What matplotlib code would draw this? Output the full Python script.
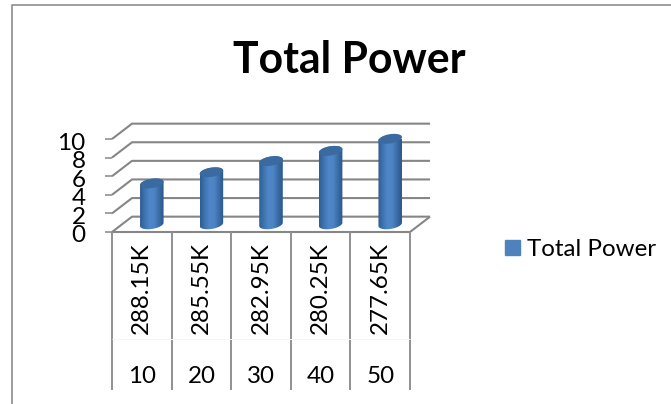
import numpy as np
import matplotlib
matplotlib.use("Agg")
import matplotlib.pyplot as plt
from matplotlib.colors import LinearSegmentedColormap
from matplotlib.lines import Line2D
from matplotlib.patches import Patch, PathPatch
from matplotlib.path import Path
from matplotlib.transforms import ScaledTranslation

plt.rcParams['font.family'] = ['Lato', 'DejaVu Sans']

temps = ["288.15K", "285.55K", "282.95K", "280.25K", "277.65K"]
groups = ["10", "20", "30", "40", "50"]
power = [4.4, 5.6, 6.8, 7.9, 9.2]
y_ticks = [0, 2, 4, 6, 8, 10]

W, H = 671, 404
GRID = "#868686"
DEPTH_X = 0.336   # wall offset, in categories
DEPTH_Y = 1.65    # wall offset, in value units
BAR_W = 0.395

fig = plt.figure(figsize=(W / 100, H / 100), dpi=100)
ax = fig.add_axes([112 / W, 1 - 232 / H, 298 / W, 93 / H])
ax.set_xlim(0, len(temps))
ax.set_ylim(0, 10)
ax.patch.set_visible(False)
for s in ax.spines.values():
    s.set_visible(False)


def gray(xs, ys, lw=1.5, color=GRID, z=1):
    ax.plot(xs, ys, color=color, lw=lw, clip_on=False, zorder=z, solid_capstyle="butt")


# walls and floor
n = len(temps)
for t in y_ticks:
    gray([0, DEPTH_X, n + DEPTH_X], [t, t + DEPTH_Y, t + DEPTH_Y])
gray([0, n, n + DEPTH_X], [0, 0, DEPTH_Y])

# table under the axis
for i in range(n + 1):
    gray([i, i], [0, -17], lw=1.4, color="#909090")
gray([0, n], [-11.55, -11.55], lw=0.7, color="#f6f6f6")

# cylinders
cmap = LinearSegmentedColormap.from_list(
    "cyl", ["#2f5d92", "#3f74b0", "#4f86c8", "#4d84c4", "#3a6ca6", "#2c588b"])
grad = np.linspace(0, 1, 64).reshape(1, -1)
t = np.linspace(0, np.pi, 40)
a, b, tilt = BAR_W / 2, 0.5, 0.9
for i, v in enumerate(power):
    cx = i + 0.5 + DEPTH_X / 2
    mid = DEPTH_Y / 2
    # front half of the base ellipse, back half of the top ellipse
    low_x = a * np.cos(t + np.pi)
    up_x = a * np.cos(t)
    lower = np.c_[cx + low_x, mid + b * np.sin(t + np.pi) + tilt * low_x]
    upper = np.c_[cx + up_x, v + mid + b * np.sin(t) + tilt * up_x]
    body = Path(np.r_[lower, upper, lower[:1]], closed=True)
    im = ax.imshow(grad, extent=[cx - a, cx + a, -2, 12], cmap=cmap, aspect="auto", zorder=3)
    im.set_clip_path(PathPatch(body, transform=ax.transData))
    top_low = np.c_[cx + low_x, v + mid + b * np.sin(t + np.pi) + tilt * low_x]
    top = Path(np.r_[top_low, upper, top_low[:1]], closed=True)
    ax.add_patch(PathPatch(top, fc="#3a6aa0", ec="none", zorder=4, clip_on=False))
ax.set_xlim(0, n)
ax.set_ylim(0, 10)

# axis text
ax.set_xticks([])
ax.set_yticks(y_ticks)
ax.set_yticklabels([str(v) for v in y_ticks], fontsize=17.5, color="black")
ax.tick_params(axis="y", length=5, width=1.1, color=GRID, pad=14)
nudge = ScaledTranslation(0, -2 / 100, fig.dpi_scale_trans)
for lab in ax.get_yticklabels():
    lab.set_transform(lab.get_transform() + nudge)
for i, (temp, grp) in enumerate(zip(temps, groups)):
    ax.text(i + 0.5, -6.05, temp, rotation=90, ha="center", va="center", fontsize=17.4, color="black")
    ax.text(i + 0.5, -15.5, grp, ha="center", va="center", fontsize=17.4, color="black")

fig.text(349 / W, 1 - 60 / H, "Total Power", fontsize=30.8, fontweight="bold", ha="center", va="center", color="black")
fig.legend(handles=[Patch(color="#4f81bd", label="Total Power")], loc="center left",
           bbox_to_anchor=(505 / W, 1 - 249.5 / H), frameon=False, fontsize=17.4,
           handlelength=0.62, handleheight=0.62, handletextpad=0.29, borderpad=0, borderaxespad=0)

# chart frame (left and top only are in view)
fig.add_artist(Line2D([12 / W, 12 / W, 1], [0, 1 - 5 / H, 1 - 5 / H], color="#8c8c8c", lw=1.2))

fig.savefig("out.png", dpi=100)
